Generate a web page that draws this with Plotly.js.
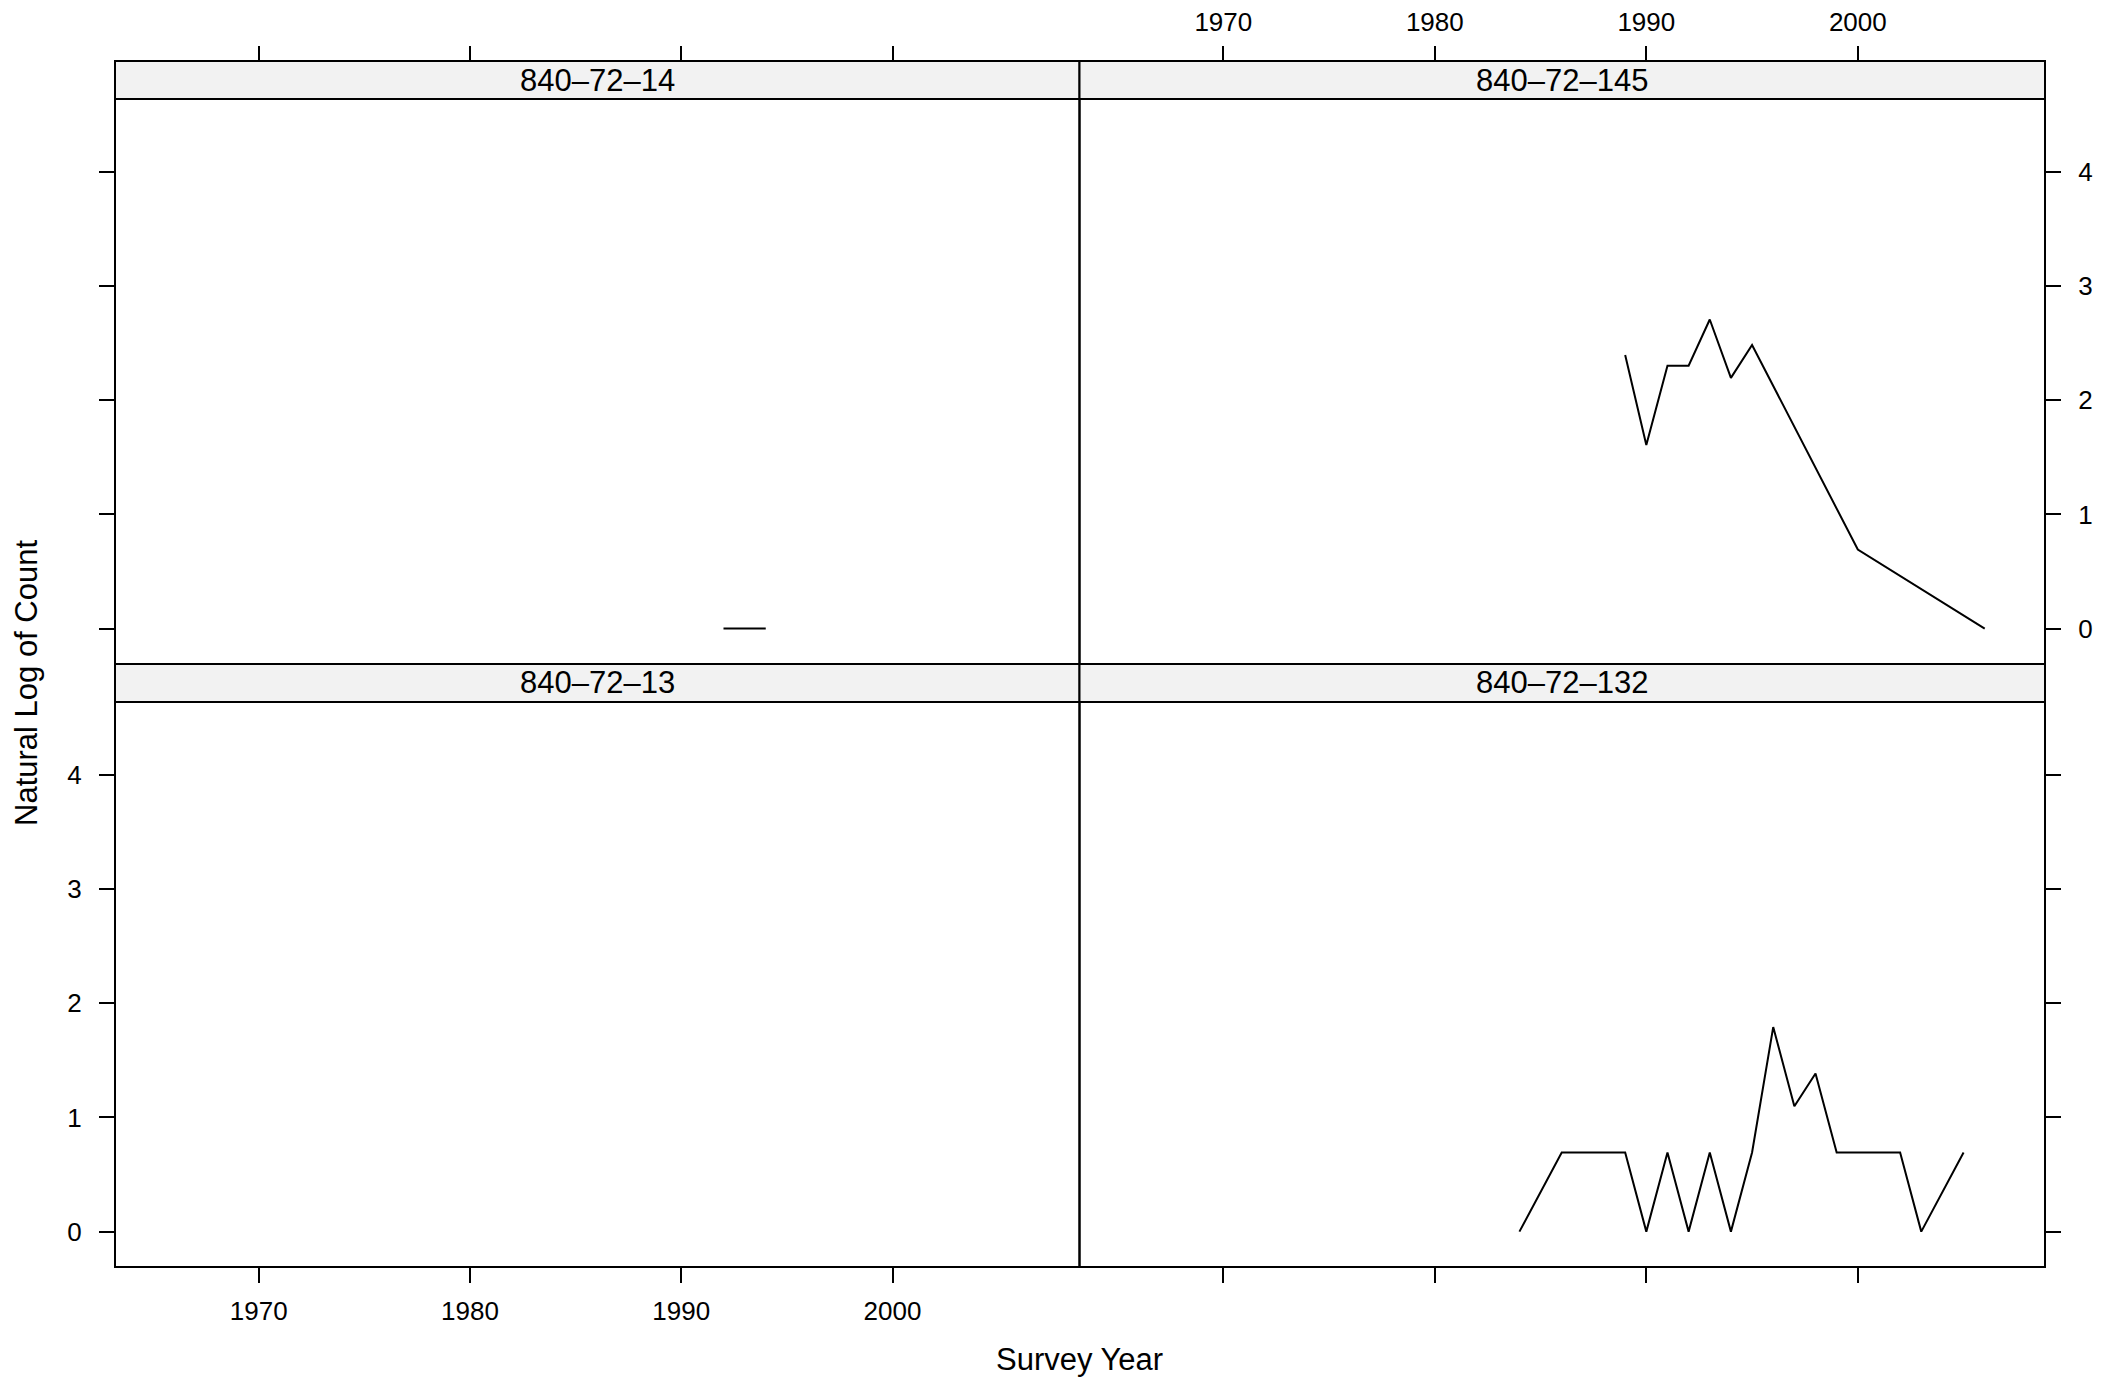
<!DOCTYPE html>
<html>
<head>
<meta charset="utf-8">
<script src="https://cdn.plot.ly/plotly-3.0.1.min.js"></script>
<style>html,body{margin:0;padding:0;background:#fff;}#chart{width:2121px;height:1380px;}</style>
</head>
<body>
<div id="chart"></div>
<script>
// Panel labels
const panelNames = ["840–72–14", "840–72–145", "840–72–13", "840–72–132"];

// Panel 840-72-14
const yearsA = [1992, 1993, 1994];
const logA = [0, 0, 0];

// Panel 840-72-145
const yearsB = [1989, 1990, 1991, 1992, 1993, 1994, 1995, 2000, 2006];
const logB = [2.398, 1.609, 2.303, 2.303, 2.708, 2.197, 2.485, 0.693, 0];

// Panel 840-72-13 (no data)
const yearsC = [];
const logC = [];

// Panel 840-72-132
const yearsD = [1984, 1986, 1987, 1988, 1989, 1990, 1991, 1992, 1993, 1994, 1995, 1996, 1997, 1998, 1999, 2000, 2001, 2002, 2003, 2005];
const logD = [0, 0.693, 0.693, 0.693, 0.693, 0, 0.693, 0, 0.693, 0, 0.693, 1.792, 1.099, 1.386, 0.693, 0.693, 0.693, 0.693, 0, 0.693];

// Tick labels
const xTicks = [1970, 1980, 1990, 2000];
const yTicks = [0, 1, 2, 3, 4];

const W = 2121, H = 1380;
const px = v => v / W;
const py = v => (H - v) / H;

// geometry (pixels)
const colL = [115, 1079.5], colR = [1079.5, 2045];
const topStrip = [61, 99], topPlot = [99, 664];
const botStrip = [664, 702], botPlot = [702, 1267];

const FONT = "Liberation Sans, Arial, sans-serif";
const xRange = [1963.2, 2008.85];
const yRange = [-0.31, 4.64];

const lineStyle = {color: "#000", width: 2};
const traces = [
  {x: yearsA, y: logA, xaxis: "x", yaxis: "y", mode: "lines", line: lineStyle},
  {x: yearsB, y: logB, xaxis: "x2", yaxis: "y2", mode: "lines", line: lineStyle},
  {x: yearsC, y: logC, xaxis: "x3", yaxis: "y3", mode: "lines", line: lineStyle},
  {x: yearsD, y: logD, xaxis: "x4", yaxis: "y4", mode: "lines", line: lineStyle}
];

function xa(col, opts) {
  return Object.assign({
    domain: [px(col[0]), px(col[1])], range: xRange, tickmode: "array", tickvals: xTicks,
    ticks: "outside", ticklen: 15, tickwidth: 2, tickcolor: "#000",
    showgrid: false, zeroline: false, showline: false,
    tickfont: {family: FONT, size: 26, color: "#000"}, ticklabelstandoff: 6
  }, opts);
}
function ya(row, opts) {
  return Object.assign({
    domain: [py(row[1]), py(row[0])], range: yRange, tickmode: "array", tickvals: yTicks,
    ticks: "outside", ticklen: 15, tickwidth: 2, tickcolor: "#000",
    showgrid: false, zeroline: false, showline: false,
    tickfont: {family: FONT, size: 26, color: "#000"}, ticklabelstandoff: 12
  }, opts);
}

const stripTopPos = py(topStrip[0]);
const layout = {
  width: W, height: H, margin: {l: 0, r: 0, t: 0, b: 0},
  paper_bgcolor: "#fff", plot_bgcolor: "rgba(0,0,0,0)", showlegend: false,
  font: {family: FONT, color: "#000"},
  xaxis: xa(colL, {anchor: "free", position: stripTopPos, side: "top", showticklabels: false, ticklabelstandoff: 5}),
  yaxis: ya(topPlot, {anchor: "x", side: "left", showticklabels: false}),
  xaxis2: xa(colR, {anchor: "free", position: stripTopPos, side: "top", showticklabels: true, ticklabelstandoff: 5}),
  yaxis2: ya(topPlot, {anchor: "x2", side: "right", showticklabels: true}),
  xaxis3: xa(colL, {anchor: "y3", side: "bottom", showticklabels: true}),
  yaxis3: ya(botPlot, {anchor: "x3", side: "left", showticklabels: true}),
  xaxis4: xa(colR, {anchor: "y4", side: "bottom", showticklabels: false}),
  yaxis4: ya(botPlot, {anchor: "x4", side: "right", showticklabels: false}),
  shapes: [],
  annotations: []
};

const panels = [
  {col: colL, strip: topStrip, plot: topPlot, name: panelNames[0]},
  {col: colR, strip: topStrip, plot: topPlot, name: panelNames[1]},
  {col: colL, strip: botStrip, plot: botPlot, name: panelNames[2]},
  {col: colR, strip: botStrip, plot: botPlot, name: panelNames[3]}
];
panels.forEach(p => {
  layout.shapes.push({type: "rect", xref: "paper", yref: "paper",
    x0: px(p.col[0]), x1: px(p.col[1]), y0: py(p.strip[1]), y1: py(p.strip[0]),
    fillcolor: "#f2f2f2", line: {color: "#000", width: 2}});
  layout.shapes.push({type: "rect", xref: "paper", yref: "paper",
    x0: px(p.col[0]), x1: px(p.col[1]), y0: py(p.plot[1]), y1: py(p.plot[0]),
    fillcolor: "rgba(0,0,0,0)", line: {color: "#000", width: 2}});
  layout.annotations.push({xref: "paper", yref: "paper", x: px((p.col[0] + p.col[1]) / 2),
    y: py((p.strip[0] + p.strip[1]) / 2), text: p.name, showarrow: false,
    xanchor: "center", yanchor: "middle", font: {family: FONT, size: 31, color: "#000"}});
});
layout.annotations.push({xref: "paper", yref: "paper", x: px(1079.5), y: py(1359),
  text: "Survey Year", showarrow: false, xanchor: "center", yanchor: "middle",
  font: {family: FONT, size: 31, color: "#000"}});
layout.annotations.push({xref: "paper", yref: "paper", x: px(27), y: py(683),
  text: "Natural Log of Count", showarrow: false, textangle: -90, xanchor: "center", yanchor: "middle",
  font: {family: FONT, size: 31, color: "#000"}});

Plotly.newPlot("chart", traces, layout, {staticPlot: true});
</script>
</body>
</html>
